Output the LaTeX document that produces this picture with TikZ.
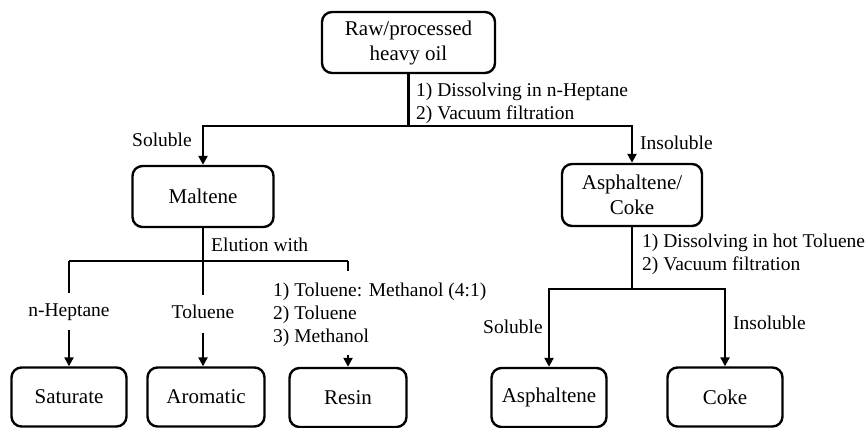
\documentclass[tikz,border=0pt]{standalone}
\usepackage{fontspec}
\setmainfont{Liberation Serif}
\usetikzlibrary{arrows.meta}
\begin{document}
\begin{tikzpicture}[x=1pt,y=-1pt,
  box/.style={draw, line width=2.4pt, rounded corners=10pt, align=center,
    font=\fontsize{21}{25}\selectfont, inner sep=0pt},
  lab/.style={font=\fontsize{19.5}{23}\selectfont, inner sep=0pt, align=left},
  gaplab/.style={font=\fontsize{19.5}{23}\selectfont, inner xsep=2pt, inner ysep=10pt,
    text height=13pt, text depth=4pt},
  ln/.style={line width=2.4pt},
  arr/.style={line width=2.4pt, -{Triangle[width=9pt,length=9pt]}}]
\useasboundingbox (0,0) rectangle (867,428);
% boxes
\node[box, minimum width=173pt, minimum height=61pt] (raw) at (408.5,42.5) {Raw/processed\\heavy oil};
\node[box, minimum width=141pt, minimum height=61pt] (mal) at (203,196.5) {Maltene};
\node[box, minimum width=140pt, minimum height=62pt] (ac) at (632,195) {Asphaltene/\\Coke};
\node[box, minimum width=115pt, minimum height=59pt] (sat) at (69,397) {Saturate};
\node[box, minimum width=117pt, minimum height=59pt] (aro) at (206,397) {Aromatic};
\node[box, minimum width=117pt, minimum height=59pt] (res) at (348,397.5) {Resin};
\node[box, minimum width=115pt, minimum height=59pt] (asp) at (549,397.5) {Asphaltene};
\node[box, minimum width=115pt, minimum height=59pt] (coke) at (725,397) {Coke};
% top split
\coordinate (s1) at (408.5,126);
\draw[ln] (raw.south) -- (s1);
\draw[arr] (s1) -| (mal.north);
\draw[arr] (s1) -| (ac.north);
\node[lab, anchor=west] (l1) at (416,103.5) {1) Dissolving in n-Heptane\\2) Vacuum filtration};
\node[lab, anchor=east] (sol1) at (192,140) {Soluble};
\node[lab, anchor=west] (ins1) at (640,143) {Insoluble};
% maltene split
\coordinate (s2) at (203,261);
\coordinate (c1) at (69,261);
\coordinate (c3) at (348,261);
\draw[ln] (mal.south) -- (s2);
\draw[ln] (c1) -- (c3);
\node[lab, anchor=west] (el) at (211,245) {Elution with};
\node[gaplab] (hep) at (69,311.5) {n-Heptane};
\draw[ln] (c1) -- (hep.north);
\draw[arr] (hep.south) -- (sat.north);
\node[gaplab] (tol) at (203,314) {Toluene};
\draw[ln] (s2) -- (tol.north);
\draw[arr] (tol.south) -- (tol.south |- aro.north);
\node[lab, anchor=west] (rl) at (273,314.5) {1) Toluene: Methanol (4:1)\\2) Toluene\\3) Methanol};
\coordinate (r1) at (348,271);
\coordinate (r2) at (348,355);
\draw[ln] (c3) -- (r1);
\draw[arr] (r2) -- (res.north);
% asphaltene split
\coordinate (s3) at (ac.south |- 0,289);
\draw[ln] (ac.south) -- (s3);
\draw[arr] (s3) -| (asp.north);
\draw[arr] (s3) -| (coke.north);
\node[lab, anchor=west] (l2) at (642,254.5) {1) Dissolving in hot Toluene\\2) Vacuum filtration};
\node[lab, anchor=east] (sol2) at (543,327) {Soluble};
\node[lab, anchor=west] (ins2) at (733,323) {Insoluble};
\end{tikzpicture}
\end{document}
